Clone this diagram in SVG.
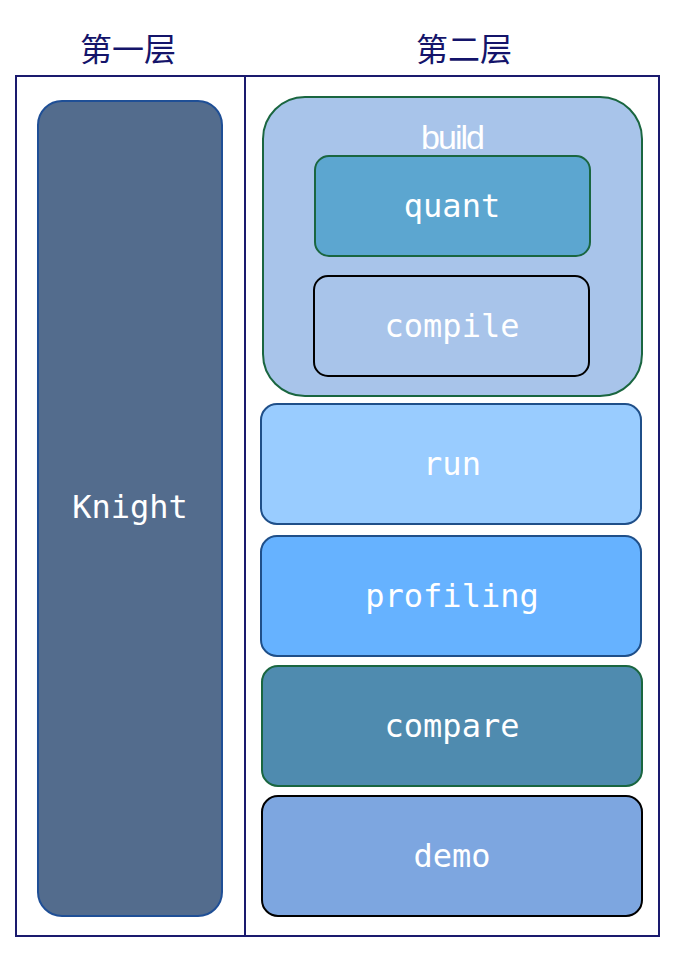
<svg xmlns="http://www.w3.org/2000/svg" width="677" height="954" viewBox="0 0 677 954">
<style>
.hd{font-family:"Noto Sans CJK SC","Noto Sans CJK JP",sans-serif;font-size:32px;fill:#14146a;text-anchor:middle}
.lb{font-family:"DejaVu Sans Mono",monospace;font-size:32px;fill:#ffffff;text-anchor:middle;dominant-baseline:central}
.frame{fill:none;stroke:#1a1a6e;stroke-width:2}
rect.n{stroke-width:2}
</style>
<rect width="677" height="954" fill="#ffffff"/>
<g id="headings">
<text class="hd" x="128" y="61">第一层</text>
<text class="hd" x="464" y="61">第二层</text>
</g>
<g id="frame">
<rect class="frame" x="16" y="76" width="643" height="860"/>
<line class="frame" x1="245" y1="76" x2="245" y2="936"/>
</g>
<g id="connectors"></g>
<g id="knight">
<rect class="n" x="38" y="101" width="184" height="815" rx="24" fill="#536c8d" stroke="#1f4f96"/>
<text class="lb" x="130" y="507">Knight</text>
</g>
<g id="build">
<rect class="n" x="263" y="97" width="379" height="299" rx="42" fill="#a8c4ea" stroke="#1a6640"/>
<text x="452" y="137" font-family="'Liberation Sans',sans-serif" font-size="34" fill="#ffffff" text-anchor="middle" dominant-baseline="central" letter-spacing="-2">build</text>
</g>
<g id="quant">
<rect class="n" x="315" y="156" width="275" height="100" rx="14" fill="#5ca6d0" stroke="#1a6640"/>
<text class="lb" x="452" y="206">quant</text>
</g>
<g id="compile">
<rect class="n" x="314" y="276" width="275" height="100" rx="14" fill="#a8c4ea" stroke="#000000"/>
<text class="lb" x="452" y="326">compile</text>
</g>
<g id="run">
<rect class="n" x="261" y="404" width="380" height="120" rx="16" fill="#99ccff" stroke="#1f4f89"/>
<text class="lb" x="452" y="464">run</text>
</g>
<g id="profiling">
<rect class="n" x="261" y="536" width="380" height="120" rx="16" fill="#66b2ff" stroke="#1f4f89"/>
<text class="lb" x="452" y="596">profiling</text>
</g>
<g id="compare">
<rect class="n" x="262" y="666" width="380" height="120" rx="16" fill="#4f8baf" stroke="#1a6640"/>
<text class="lb" x="452" y="726">compare</text>
</g>
<g id="demo">
<rect class="n" x="262" y="796" width="380" height="120" rx="16" fill="#7da6e0" stroke="#000000"/>
<text class="lb" x="452" y="856">demo</text>
</g>
</svg>
